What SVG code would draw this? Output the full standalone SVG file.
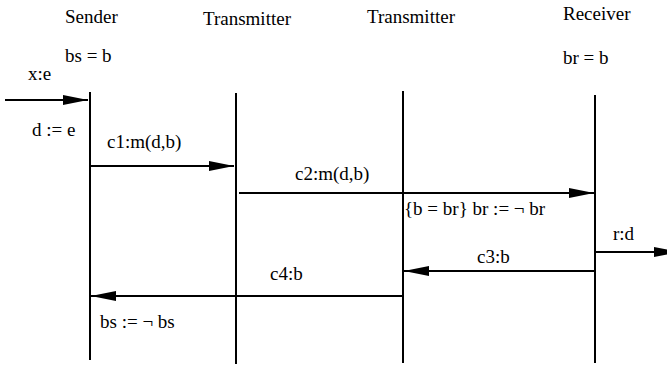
<svg xmlns="http://www.w3.org/2000/svg" width="667" height="366" viewBox="0 0 667 366" font-family="'Liberation Serif', 'DejaVu Serif', serif" font-size="19">
<style>
text{font-family:'Liberation Serif','DejaVu Serif',serif;font-size:19px;fill:#000}
.life{stroke:#000;stroke-width:2;fill:none}
.msg{stroke:#000;stroke-width:2;fill:none;marker-end:url(#ah)}
</style>
<defs>
<marker id="ah" markerUnits="userSpaceOnUse" markerWidth="25" markerHeight="12" refX="25" refY="6" orient="auto" overflow="visible">
<path d="M0,1 L25,6 L0,11 Z" fill="#000"/>
</marker>
</defs>
<rect width="667" height="366" fill="#fff"/>
<g id="sender">
<text x="65" y="23">Sender</text>
<text x="65" y="62">bs = b</text>
<text x="32" y="136">d := e</text>
<text x="100" y="328">bs := ¬ bs</text>
<line class="life" x1="90" y1="92" x2="90" y2="360"/>
</g>
<g id="transmitter1">
<text x="203" y="25">Transmitter</text>
<line class="life" x1="236" y1="93" x2="236" y2="364"/>
</g>
<g id="transmitter2">
<text x="367" y="23">Transmitter</text>
<text x="404" y="215">{b = br} br := ¬ br</text>
<line class="life" x1="403" y1="91" x2="403" y2="363"/>
</g>
<g id="receiver">
<text x="563" y="20">Receiver</text>
<text x="563" y="64">br = b</text>
<line class="life" x1="595" y1="95" x2="595" y2="363"/>
</g>
<g id="connectors">
<line class="msg" x1="5" y1="100" x2="88" y2="100"/>
<text x="28" y="80">x:e</text>
<line class="msg" x1="90" y1="166" x2="234" y2="166"/>
<text x="107" y="148">c1:m(d,b)</text>
<line class="msg" x1="239" y1="193" x2="594" y2="193"/>
<text x="295" y="180">c2:m(d,b)</text>
<line class="msg" x1="596" y1="252" x2="679" y2="252"/>
<text x="613" y="240">r:d</text>
<line class="msg" x1="595" y1="271" x2="404" y2="271"/>
<text x="477" y="263">c3:b</text>
<line class="msg" x1="403" y1="296" x2="91" y2="296"/>
<text x="270" y="280">c4:b</text>
</g>
</svg>
